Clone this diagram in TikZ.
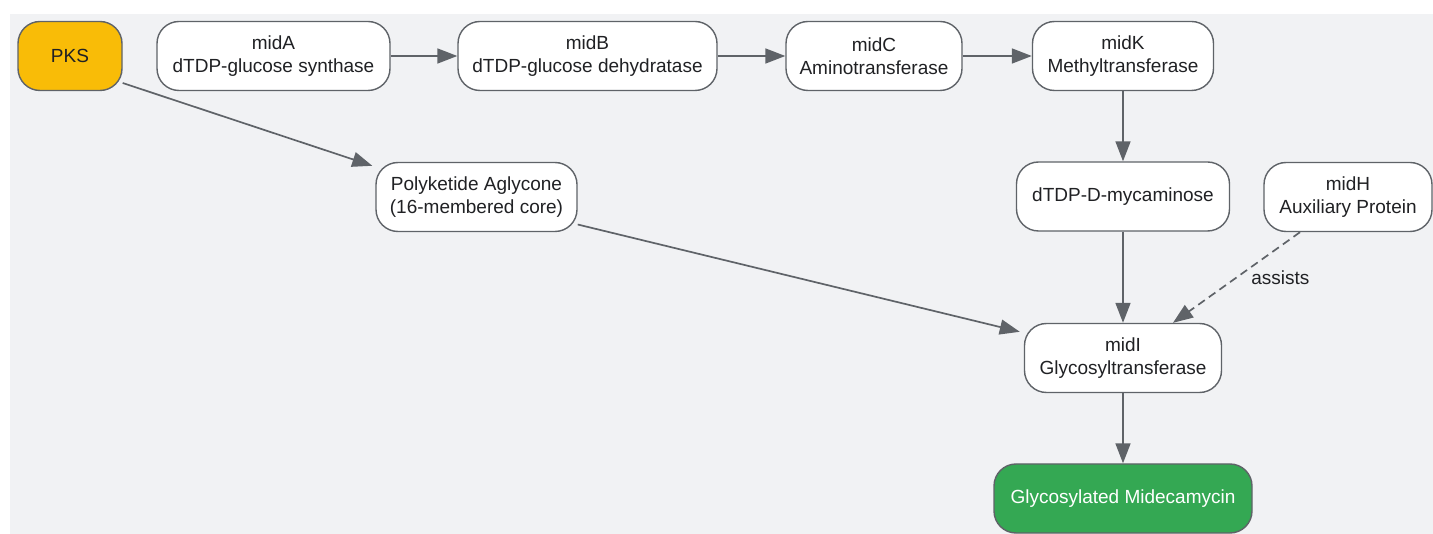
\documentclass[tikz,border=0pt]{standalone}
\usepackage{fontspec}
\setmainfont{Liberation Sans}
\usetikzlibrary{arrows.meta}
\definecolor{bgc}{HTML}{F1F2F4}
\definecolor{linec}{HTML}{5F6368}
\definecolor{txtc}{HTML}{202124}
\definecolor{pksc}{HTML}{F9BC07}
\definecolor{grnc}{HTML}{34A853}
\begin{document}
\begin{tikzpicture}[x=1pt,y=-1pt,
  box/.style={draw=linec, line width=1.4pt, rounded corners=22pt, fill=white, align=center,
    inner sep=0pt, text=txtc, font=\fontsize{19}{23}\selectfont},
  arr/.style={draw=linec, line width=1.7pt, -{Triangle[length=20pt,width=15pt]}},
  lbl/.style={text=txtc, font=\fontsize{19}{23}\selectfont, inner sep=0pt}]
\useasboundingbox (0,0) rectangle (1433,534);
\fill[bgc] (10,14) rectangle (1433,534);
\node[box, fill=pksc, minimum width=104pt, minimum height=69pt] (pks) at (70,56) {PKS};
\node[box, minimum width=233pt, minimum height=69pt] (mida) at (273.5,56) {midA\\dTDP-glucose synthase};
\node[box, minimum width=259pt, minimum height=69pt] (midb) at (587.5,56) {midB\\dTDP-glucose dehydratase};
\node[box, minimum width=176pt, minimum height=69pt] (midc) at (874,56) {midC\\Aminotransferase};
\node[box, minimum width=181pt, minimum height=69pt] (midk) at (1123,56) {midK\\Methyltransferase};
\node[box, minimum width=201pt, minimum height=69pt] (poly) at (476.5,197) {Polyketide Aglycone\\(16-membered core)};
\node[box, minimum width=213pt, minimum height=69pt] (myc) at (1123,196.5) {dTDP-D-mycaminose};
\node[box, minimum width=168pt, minimum height=69pt] (midh) at (1348,197) {midH\\Auxiliary Protein};
\node[box, minimum width=197pt, minimum height=69pt] (midi) at (1123,358) {midI\\Glycosyltransferase};
\node[box, fill=grnc, text=white, minimum width=258pt, minimum height=69pt] (gly) at (1123,498.5) {Glycosylated Midecamycin};
\draw[arr] (mida) -- (midb);
\draw[arr] (midb) -- (midc);
\draw[arr] (midc) -- (midk);
\draw[arr] (midk) -- (myc);
\draw[arr] (myc) -- (midi);
\draw[arr] (midi) -- (gly);
\draw[arr] ([yshift=-27pt]pks.east) -- ([shift={(-3pt,-4pt)}]poly.north west);
\draw[arr] ([yshift=-27.5pt]poly.east) -- ([shift={(-4pt,-9pt)}]midi.north west);
\draw[arr, dashed, dash pattern=on 8pt off 5pt] ([xshift=-48pt]midh.south) -- node[lbl, pos=0.5, right=14pt] {assists} ([xshift=50pt]midi.north);
\end{tikzpicture}
\end{document}
